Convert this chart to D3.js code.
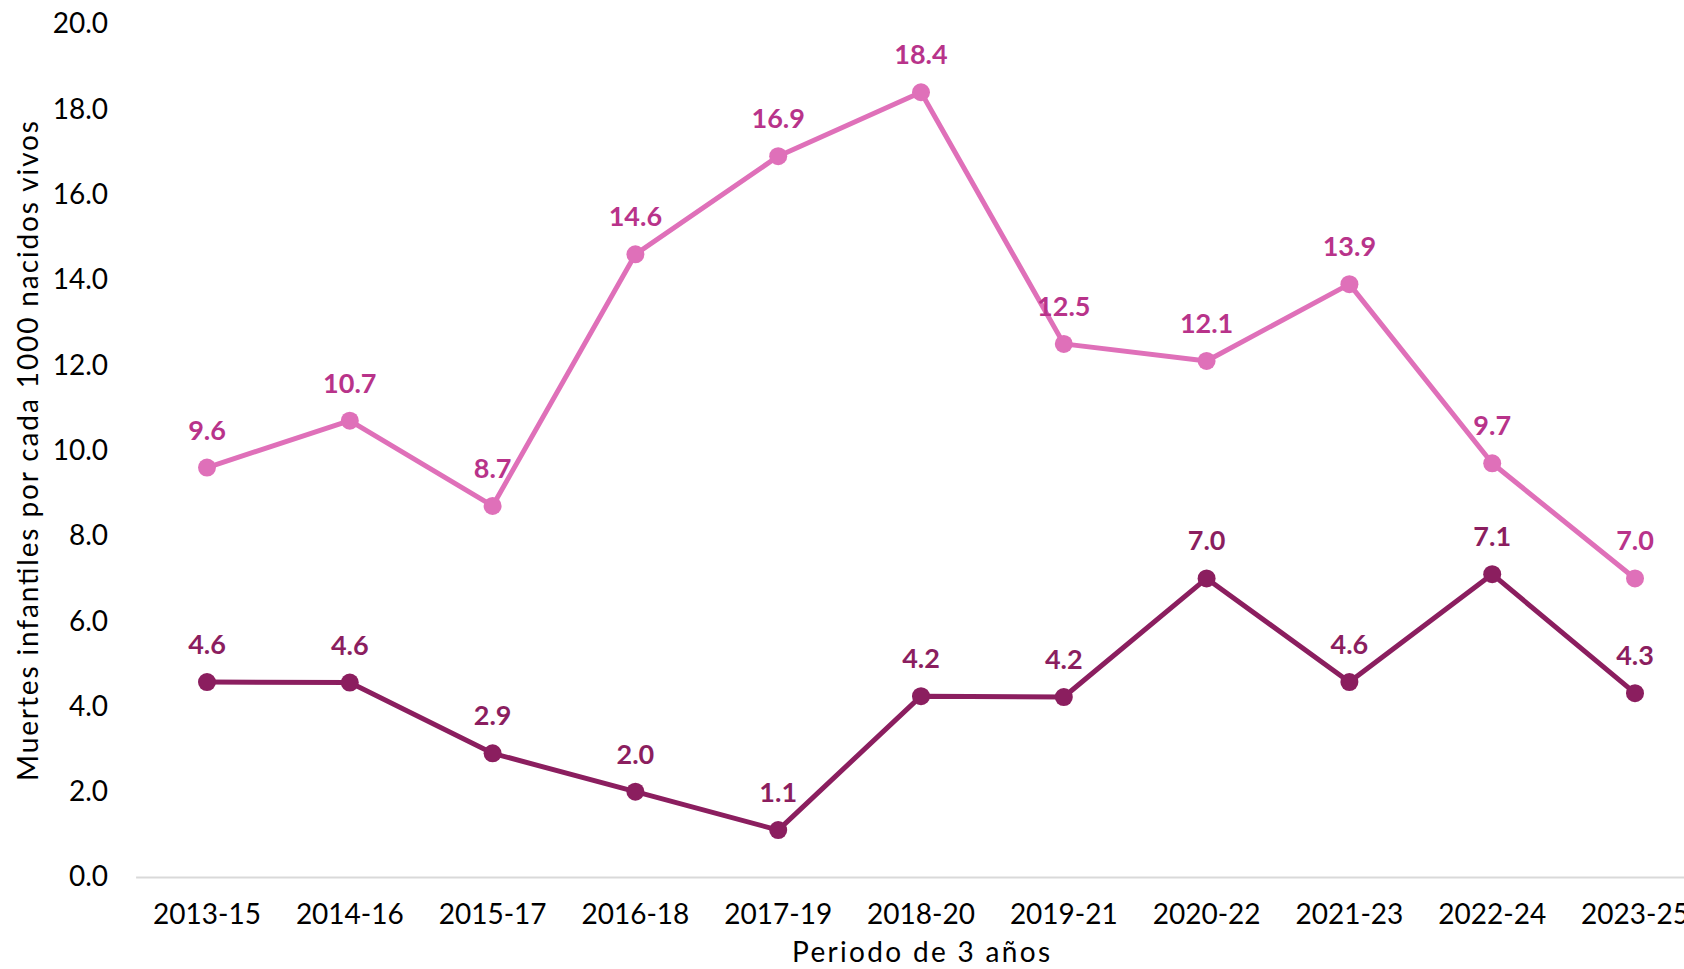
<!DOCTYPE html>
<html>
<head>
<meta charset="utf-8">
<script src="https://cdn.jsdelivr.net/npm/d3@7"></script>
<style>
  html, body { margin: 0; padding: 0; background: #fff; }
  svg { display: block; }
  text { font-family: Lato, "Open Sans", sans-serif; }
</style>
</head>
<body>
<svg id="chart" width="1684" height="969"></svg>
<script>
const categories = ["2013-15","2014-16","2015-17","2016-18","2017-19","2018-20","2019-21","2020-22","2021-23","2022-24","2023-25"];
const seriesPink = [9.6, 10.7, 8.7, 14.6, 16.9, 18.4, 12.5, 12.1, 13.9, 9.7, 7.0];
const seriesDark = [4.57, 4.56, 2.9, 2.0, 1.1, 4.24, 4.22, 7.0, 4.57, 7.1, 4.31];
const yTicks = [0, 2, 4, 6, 8, 10, 12, 14, 16, 18, 20];
const yTitle = "Muertes infantiles por cada 1000 nacidos vivos";
const xTitle = "Periodo de 3 años";

const svg = d3.select("#chart");
const x = d3.scaleBand().domain(categories).range([135.6, 1706.4]);
const y = d3.scaleLinear().domain([0, 20]).range([877, 24]);
const cx = d => x(d) + x.bandwidth() / 2;

// x axis
const xAxis = svg.append("g").attr("transform", `translate(0,${y(0)})`)
  .call(d3.axisBottom(x).tickSize(0).tickPadding(27));
xAxis.select(".domain").attr("stroke", "#d9d9d9").attr("stroke-width", 2);
xAxis.selectAll("text").attr("font-size", 28).attr("fill", "#000")
  .style("font-family", "Lato, sans-serif");

// y axis (labels only)
const yAxis = svg.append("g").attr("transform", `translate(108,0)`)
  .call(d3.axisLeft(y).tickValues(yTicks).tickFormat(d3.format(".1f")).tickSize(0).tickPadding(0));
yAxis.select(".domain").remove();
yAxis.selectAll("text").attr("font-size", 28).attr("fill", "#000")
  .style("font-family", "Lato, sans-serif");

// titles
svg.append("text").attr("x", 921).attr("y", 962).attr("text-anchor", "middle")
  .attr("font-size", 28).attr("fill", "#000")
  .attr("textLength", 258).attr("lengthAdjust", "spacing").text(xTitle);
svg.append("text").attr("transform", `translate(38,451) rotate(-90)`).attr("text-anchor", "middle")
  .attr("font-size", 28).attr("fill", "#000")
  .attr("textLength", 660).attr("lengthAdjust", "spacing").text(yTitle);

const series = [
  { values: seriesPink, line: "#df70b9", label: "#b8338a" },
  { values: seriesDark, line: "#8b1e5f", label: "#8b1e5f" }
];

const line = d3.line().x((d, i) => cx(categories[i])).y(d => y(d));

series.forEach(s => {
  svg.append("path").datum(s.values).attr("d", line)
    .attr("fill", "none").attr("stroke", s.line).attr("stroke-width", 5)
    .attr("stroke-linejoin", "round");
  svg.append("g").selectAll("circle").data(s.values).join("circle")
    .attr("cx", (d, i) => cx(categories[i])).attr("cy", d => y(d)).attr("r", 9)
    .attr("fill", s.line);
  svg.append("g").selectAll("text").data(s.values).join("text")
    .attr("x", (d, i) => cx(categories[i])).attr("y", d => y(d) - 28)
    .attr("text-anchor", "middle").attr("font-size", 27).attr("font-weight", "bold")
    .attr("fill", s.label).text(d => d3.format(".1f")(d));
});
</script>
</body>
</html>
